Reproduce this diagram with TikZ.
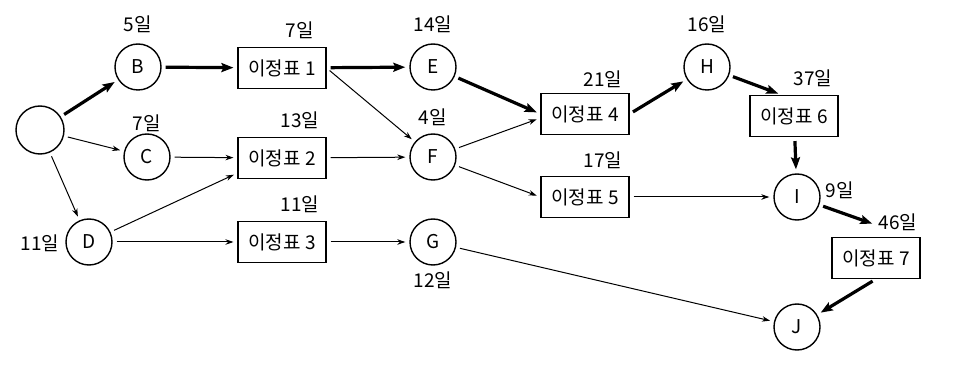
\documentclass[tikz,border=0pt]{standalone}
\usepackage{fontspec}
\setmainfont{Noto Sans CJK KR}
\usetikzlibrary{arrows.meta, positioning}

\begin{document}
\begin{tikzpicture}[x=1pt, y=-1pt,
    every node/.style={font=\fontsize{19}{21}\selectfont},
    ev/.style={circle, draw, line width=1.4pt, minimum size=46pt, inner sep=0pt},
    ms/.style={rectangle, draw, line width=1.1pt,
               minimum width=88pt, minimum height=41pt},
    lbl/.style={inner sep=1pt},
    arr/.style={-{Stealth[length=8pt, width=5.5pt]}, line width=1pt,
                shorten <=4pt, shorten >=4pt},
    crit/.style={-{Stealth[length=12pt, width=9pt, inset=2pt]}, line width=3.2pt,
                 shorten <=4pt, shorten >=4pt}
  ]
  \useasboundingbox (0,0) rectangle (954,366);

  % events
  \node[ev, minimum size=48pt] (s) at (40,130) {};
  \node[ev] (b) at (138,67)  {B};
  \node[ev] (c) at (147,157) {C};
  \node[ev] (d) at (89,242)  {D};
  \node[ev] (e) at (433,67)  {E};
  \node[ev] (f) at (433,157) {F};
  \node[ev] (g) at (433,242) {G};
  \node[ev] (h) at (707,67)  {H};
  \node[ev] (i) at (797,197) {I};
  \node[ev] (j) at (797,327) {J};

  % milestones
  \node[ms] (m1) at (282,68)  {이정표 1};
  \node[ms] (m2) at (282,158) {이정표 2};
  \node[ms] (m3) at (282,242) {이정표 3};
  \node[ms] (m4) at (585,114) {이정표 4};
  \node[ms] (m5) at (585,197) {이정표 5};
  \node[ms] (m6) at (794,116) {이정표 6};
  \node[ms] (m7) at (876,258) {이정표 7};

  % durations
  \node[lbl] (lb) at (138,24)  {5일};
  \node[lbl] (lc) at (147,123) {7일};
  \node[lbl] (ld) at (40,243)  {11일};
  \node[lbl] (l1) at (300,30)  {7일};
  \node[lbl] (l2) at (300,120) {13일};
  \node[lbl] (l3) at (300,204) {11일};
  \node[lbl] (le) at (433,24)  {14일};
  \node[lbl] (lf) at (433,117) {4일};
  \node[lbl] (lg) at (433,280) {12일};
  \node[lbl] (l4) at (603,79)  {21일};
  \node[lbl] (l5) at (603,160) {17일};
  \node[lbl] (lh) at (707,24)  {16일};
  \node[lbl] (l6) at (813,78)  {37일};
  \node[lbl] (li) at (840,190) {9일};
  \node[lbl] (l7) at (898,222) {46일};

  % critical path
  \draw[crit] (s) -- (b);
  \draw[crit] (b) -- (m1);
  \draw[crit] (m1) -- (e);
  \draw[crit] (e) -- (m4.west);
  \draw[crit] (m4.east) -- (h);
  \draw[crit] (h) -- ([xshift=-12pt]m6.north);
  \draw[crit] (m6) -- (i);
  \draw[crit] (i) -- ([yshift=12pt]m7.north);
  \draw[crit] (m7.south) -- (j);

  % other links
  \draw[arr] (s) -- (c);
  \draw[arr] (s) -- (d);
  \draw[arr] (c) -- (m2);
  \draw[arr] (d) -- ([yshift=6pt]m2.south west);
  \draw[arr] (d) -- (m3);
  \draw[arr] (m1.east) -- (f);
  \draw[arr] (m2) -- (f);
  \draw[arr] (m3) -- (g);
  \draw[arr] (f) -- ([yshift=-4pt]m4.west);
  \draw[arr] (f) -- (m5.west);
  \draw[arr] (m5) -- (i);
  \draw[arr] (g) -- (j);
\end{tikzpicture}
\end{document}
